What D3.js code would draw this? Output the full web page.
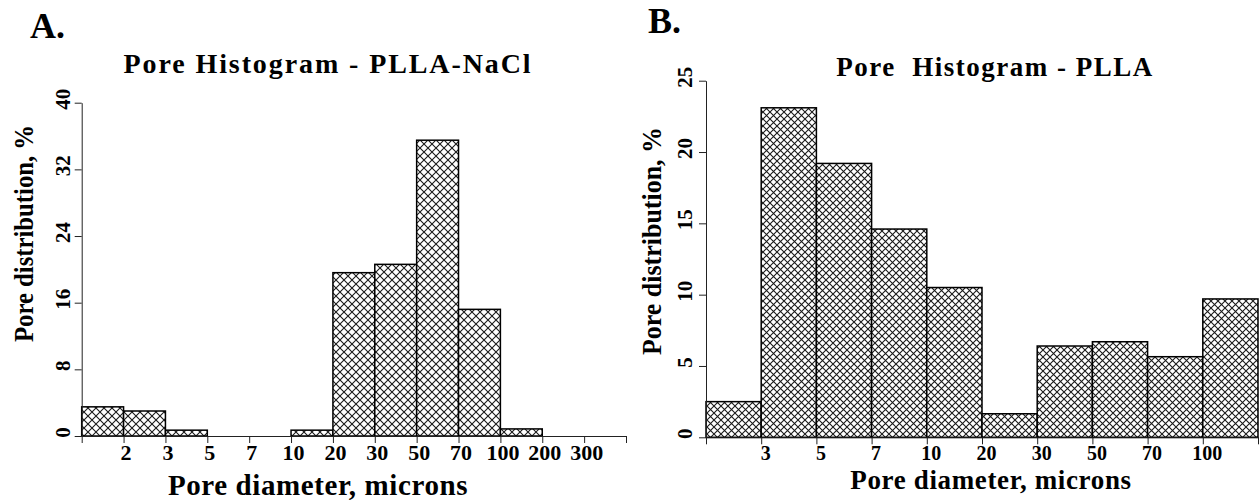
<!DOCTYPE html>
<html>
<head>
<meta charset="utf-8">
<script src="https://cdnjs.cloudflare.com/ajax/libs/d3/7.8.5/d3.min.js"></script>
<style>
	body { margin: 0; background: #fff; }
	svg { display: block; }
	text { font-family: "Liberation Serif", "Times New Roman", serif; font-weight: bold; fill: #000; }
</style>
</head>
<body>
<svg id="chart" width="1259" height="503"><defs></defs></svg>
<script>
// panel A - PLLA-NaCl, pore size bins in microns
var binsA = ["<2", "2-3", "3-5", "5-7", "7-10", "10-20", "20-30", "30-50", "50-70", "70-100", "100-200", "200-300", ">300"];
var valuesA = [3.5, 3.0, 0.7, 0, 0, 0.7, 19.6, 20.6, 35.5, 15.2, 0.85, 0, 0];
var tickLabelsA = ["2", "3", "5", "7", "10", "20", "30", "50", "70", "100", "200", "300"];
var yTicksA = [0, 8, 16, 24, 32, 40];

// panel B - PLLA
var binsB = ["<3", "3-5", "5-7", "7-10", "10-20", "20-30", "30-50", "50-70", "70-100", ">100"];
var valuesB = [2.5, 23.1, 19.2, 14.6, 10.5, 1.65, 6.4, 6.7, 5.65, 9.7];
var tickLabelsB = ["3", "5", "7", "10", "20", "30", "50", "70", "100"];
var yTicksB = [0, 5, 10, 15, 20, 25];

var svg = d3.select("#chart");

function buildPanel(p) {
	var x = d3.scaleLinear()
		.domain([0, p.bins.length])
		.range([p.left, p.right]);
	var y = d3.scaleLinear()
		.domain([0, d3.max(p.yTicks)])
		.range([p.bottom, p.top]);

	var w = p.hatch;
	var pat = svg.select("defs").append("pattern")
		.attr("id", p.id + "-hatch")
		.attr("patternUnits", "userSpaceOnUse")
		.attr("width", w)
		.attr("height", w);
	pat.append("rect")
		.attr("width", w)
		.attr("height", w)
		.attr("fill", "#fff");
	pat.append("path")
		.attr("d", "M0,0L" + w + "," + w + "M" + w + ",0L0," + w)
		.attr("stroke", "#1a1a1a")
		.attr("stroke-width", 1.1);

	var bars = p.values
		.map(function (v, i) { return {i: i, v: v}; })
		.filter(function (d) { return d.v > 0; });

	svg.append("g")
		.attr("class", p.id + "-bars")
		.selectAll("rect")
		.data(bars)
		.enter()
	  .append("rect")
		.attr("x", function (d) { return x(d.i); })
		.attr("y", function (d) { return y(d.v); })
		.attr("width", x(1) - x(0))
		.attr("height", function (d) { return y(0) - y(d.v); })
		.attr("fill", "url(#" + p.id + "-hatch)")
		.attr("stroke", "#000")
		.attr("stroke-width", 1.5);

	var xAxis = d3.axisBottom(x)
		.tickValues(d3.range(0, p.bins.length + 1))
		.tickSize(7)
		.tickSizeOuter(0)
		.tickPadding(2)
		.tickFormat(function (i) { return p.tickLabels[i - 1] || ""; });

	var gx = svg.append("g")
		.attr("transform", "translate(0," + p.bottom + ")")
		.call(xAxis)
		.attr("color", "#222")
		.attr("font-size", p.xTickSize);
	gx.selectAll("text")
		.attr("dx", p.labelShift)
		.attr("dy", "0.68em");

	var yAxis = d3.axisLeft(y)
		.tickValues(p.yTicks)
		.tickSize(7)
		.tickSizeOuter(0);

	var gy = svg.append("g")
		.attr("transform", "translate(" + p.left + ",0)")
		.call(yAxis)
		.attr("color", "#222")
		.attr("font-size", 21);
	gy.selectAll("text")
		.attr("transform", "rotate(-90)")
		.attr("x", 4)
		.attr("y", -p.yLabelGap)
		.attr("dy", 0)
		.attr("text-anchor", "middle");

	svg.append("text")
		.attr("x", p.panelX)
		.attr("y", p.panelY)
		.attr("font-size", 36)
		.text(p.panel);

	svg.append("text")
		.attr("x", p.titleX)
		.attr("y", p.titleY)
		.attr("text-anchor", "middle")
		.attr("font-size", p.titleSize)
		.attr("letter-spacing", p.titleSpacing)
		.style("white-space", "pre")
		.text(p.title);

	svg.append("text")
		.attr("x", p.xTitleX)
		.attr("y", p.xTitleY)
		.attr("text-anchor", "middle")
		.attr("font-size", p.xTitleSize)
		.attr("letter-spacing", p.xTitleSpacing)
		.text("Pore diameter, microns");

	svg.append("text")
		.attr("transform", "translate(" + p.yTitleX + "," + p.yTitleY + ") rotate(-90)")
		.attr("text-anchor", "middle")
		.attr("font-size", 27)
		.attr("textLength", p.yTitleLength)
		.attr("lengthAdjust", "spacingAndGlyphs")
		.text("Pore distribution, %");
}

buildPanel({
	id: "a", bins: binsA, values: valuesA, tickLabels: tickLabelsA, yTicks: yTicksA,
	left: 81.7, right: 626, top: 102.7, bottom: 436, hatch: 8, labelShift: 2, yLabelGap: 12, xTickSize: 22,
	panel: "A.", panelX: 30, panelY: 37.7,
	title: "Pore Histogram - PLLA-NaCl", titleX: 328, titleY: 72.7, titleSize: 28, titleSpacing: 1.9,
	xTitleX: 318, xTitleY: 495, xTitleSize: 29, xTitleSpacing: 0.6,
	yTitleX: 33, yTitleY: 233.5, yTitleLength: 217
});

buildPanel({
	id: "b", bins: binsB, values: valuesB, tickLabels: tickLabelsB, yTicks: yTicksB,
	left: 706, right: 1258, top: 80.7, bottom: 437.3, hatch: 7, labelShift: 4, yLabelGap: 14, xTickSize: 20,
	panel: "B.", panelX: 648, panelY: 33,
	title: "Pore  Histogram - PLLA", titleX: 995, titleY: 76, titleSize: 27, titleSpacing: 1.5,
	xTitleX: 991, xTitleY: 489, xTitleSize: 27, xTitleSpacing: 0.65,
	yTitleX: 661, yTitleY: 241, yTitleLength: 228
});
</script>
</body>
</html>
